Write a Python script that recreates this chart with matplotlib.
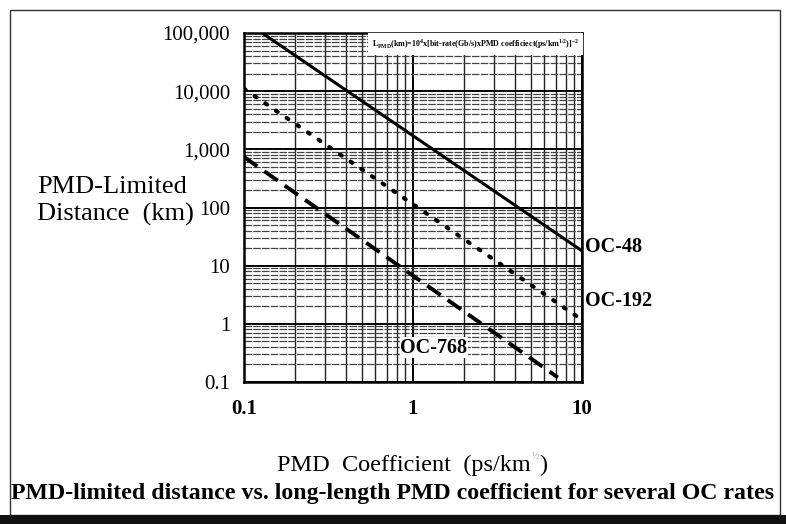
import matplotlib
matplotlib.use("Agg")
import matplotlib.pyplot as plt
from matplotlib.patches import Rectangle
from matplotlib.ticker import LogLocator, NullFormatter

plt.rcParams['font.family'] = ['Liberation Serif', 'DejaVu Serif']
plt.rcParams['mathtext.fontset'] = 'custom'
plt.rcParams['mathtext.rm'] = 'Liberation Serif:bold'

# PMD-limited distance lines (end points)
oc48_pmd = [0.128, 10]
oc48_km = [100000, 18]
oc192_pmd = [0.1, 9.5]
oc192_km = [11000, 1.3]
oc768_pmd = [0.1, 7.2]
oc768_km = [740, 0.12]

y_ticks = [0.1, 1, 10, 100, 1000, 10000, 100000]
y_labels = ["0.1", "1", "10", "100", "1,000", "10,000", "100,000"]
x_ticks = [0.1, 1, 10]
x_labels = ["0.1", "1", "10"]

fig = plt.figure(figsize=(7.86, 5.24), dpi=100)
ax = fig.add_axes([0.3104, 0.271, 0.430, 0.666])

ax.set_xscale("log")
ax.set_yscale("log")
ax.set_xlim(0.1, 10)
ax.set_ylim(0.1, 100000)

# graph-paper grid
ax.xaxis.set_minor_locator(LogLocator(base=10, subs=range(2, 10)))
ax.yaxis.set_minor_locator(LogLocator(base=10, subs=range(2, 10), numticks=20))
ax.xaxis.set_minor_formatter(NullFormatter())
ax.yaxis.set_minor_formatter(NullFormatter())
ax.grid(True, which="major", axis="both", color="black", lw=1.4)
ax.grid(True, which="minor", axis="x", color="#222222", lw=1.0)
ax.grid(True, which="minor", axis="y", color="#444444", lw=0.9, ls=(0, (6, 1)))
ax.tick_params(which="both", length=0)

ax.set_xticks(x_ticks, x_labels)
ax.set_yticks(y_ticks, y_labels)
ax.tick_params(axis="x", pad=12, labelsize=15)
ax.tick_params(axis="y", pad=10, labelsize=15)
for lab in ax.get_xticklabels():
    lab.set_fontweight("bold")

for sp in ax.spines.values():
    sp.set_linewidth(1.8)

ax.plot(oc48_pmd, oc48_km, color="black", lw=2.2, solid_capstyle="butt")
ax.plot(oc192_pmd, oc192_km, color="black", lw=3.0, ls=(0, (0.5, 2.6)),
        dash_capstyle="round")
ax.plot(oc768_pmd, oc768_km, color="black", lw=2.8, ls=(0, (4.2, 2.2)))

# curve labels
ax.text(1.01, 21, "OC-48", transform=ax.get_yaxis_transform(), fontsize=14.5,
        fontweight="bold", va="center", ha="left")
ax.text(1.01, 2.5, "OC-192", transform=ax.get_yaxis_transform(), fontsize=14.5,
        fontweight="bold", va="center", ha="left")
ax.text(0.84, 0.39, "OC-768", fontsize=14.5, fontweight="bold", va="center",
        ha="left", bbox=dict(facecolor="white", edgecolor="none", pad=0.5))

ax.text(0.379, 0.968,
        r"L$_{\mathrm{PMD}}$(km)=10$^{\mathrm{4}}$x[bit-rate(Gb/s)xPMD "
        r"coefficiect(ps/km$^{\mathrm{1/2}}$)]$^{\mathrm{-2}}$",
        transform=ax.transAxes, fontsize=5.8, fontweight="bold", va="center",
        ha="left", bbox=dict(facecolor="white", edgecolor="none", pad=3))

# axis titles
fig.text(37 / 786, 1 - 187 / 524, "PMD-Limited", fontsize=19, va="center", ha="left")
fig.text(37 / 786, 1 - 214 / 524, "Distance  (km)", fontsize=19, va="center", ha="left")

# x title: main part, faint exponent, closing bracket
renderer = fig.canvas.get_renderer()
xt = fig.text(277 / 786, 1 - 465 / 524, "PMD  Coefficient  (ps/km", fontsize=17.5,
              va="center", ha="left")
x_end = xt.get_window_extent(renderer).x1 / fig.bbox.width
fig.text(x_end + 1 / 786, 1 - 456 / 524, "½", fontsize=7, color="#aaaaaa",
         va="center", ha="left")
fig.text(x_end + 8 / 786, 1 - 465 / 524, ")", fontsize=17.5, va="center", ha="left")

fig.text(393 / 786, 1 - 494 / 524,
         "PMD-limited distance vs. long-length PMD coefficient for several OC rates",
         fontsize=17.2, fontweight="bold", va="center", ha="center")

# page frame and dark strip at the bottom
fig.add_artist(Rectangle((10 / 786, 9 / 524), 770 / 786, 505 / 524,
                         transform=fig.transFigure, fill=False,
                         edgecolor="#333333", lw=1.0))
fig.add_artist(Rectangle((0, 0), 1, 9 / 524, transform=fig.transFigure,
                         facecolor="#111111", edgecolor="none"))

fig.savefig("out.png", dpi=100)
